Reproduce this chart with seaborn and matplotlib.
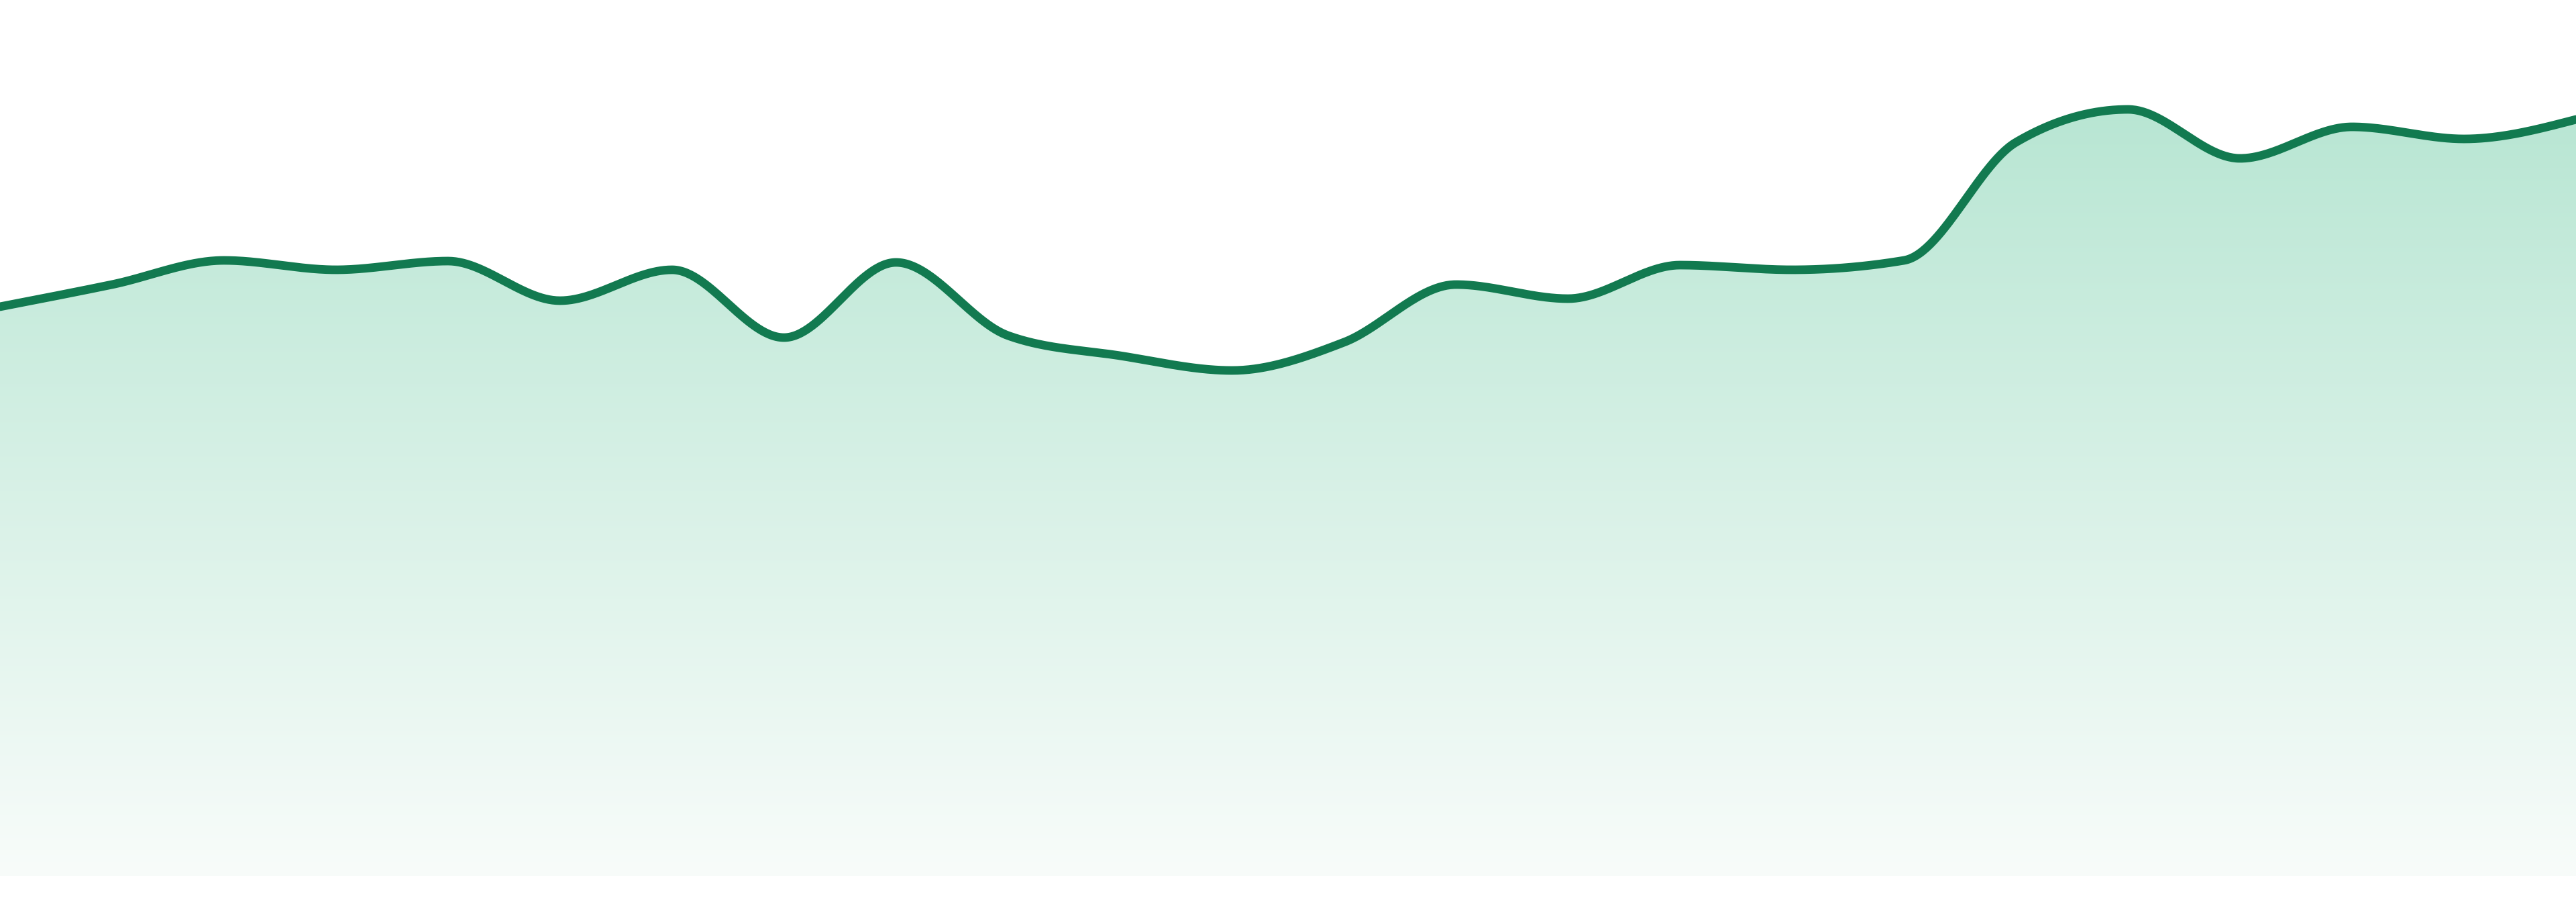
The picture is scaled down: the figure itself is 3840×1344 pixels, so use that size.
import numpy as np
import matplotlib
matplotlib.use("Agg")
import matplotlib.pyplot as plt
import seaborn as sns

# sparkline values, one per period (baseline of the area = 0)
periods = list(range(24))
values = [84.8, 88.1, 91.7, 90.3, 91.6, 85.7, 90.3, 80.2, 91.4, 80.5, 77.5, 75.3,
          79.5, 88.1, 86.0, 91.0, 90.3, 91.7, 109.3, 114.2, 106.9, 111.6, 109.8, 112.7]

line_color = "#127a50"
fill_top = np.array([184, 230, 211]) / 255
fill_bottom = np.array([248, 252, 250]) / 255


def monotone_curve(x, y, n=60):
    """Monotone cubic (like d3 curveMonotoneX), returns dense points."""
    x = np.asarray(x, float)
    y = np.asarray(y, float)
    h = np.diff(x)
    s = np.diff(y) / h
    t = np.zeros_like(y)
    for i in range(1, len(y) - 1):
        p = (s[i - 1] * h[i] + s[i] * h[i - 1]) / (h[i - 1] + h[i])
        t[i] = (np.sign(s[i - 1]) + np.sign(s[i])) * min(abs(s[i - 1]), abs(s[i]), 0.5 * abs(p))
    t[0] = (3 * s[0] - t[1]) / 2
    t[-1] = (3 * s[-1] - t[-2]) / 2
    xs, ys = [], []
    for i in range(len(x) - 1):
        u = np.linspace(0, 1, n, endpoint=(i == len(x) - 2))
        h00 = 2 * u**3 - 3 * u**2 + 1
        h10 = u**3 - 2 * u**2 + u
        h01 = -2 * u**3 + 3 * u**2
        h11 = u**3 - u**2
        xs.append(x[i] + u * h[i])
        ys.append(h00 * y[i] + h10 * h[i] * t[i] + h01 * y[i + 1] + h11 * h[i] * t[i + 1])
    return np.concatenate(xs), np.concatenate(ys)


sns.set_theme(style="white")

fig = plt.figure(figsize=(19.2, 6.72), dpi=200)
ax = fig.add_axes([0, 0, 1, 1])

cx, cy = monotone_curve(periods, values)

# gradient area under the curve
area = ax.fill_between(cx, 0, cy, color="none", lw=0)
grad_top, grad_bottom = 114.5, 0
steps = np.linspace(0, 1, 256)[:, None]
grad = fill_top * (1 - steps) + fill_bottom * steps
img = ax.imshow(grad[:, None, :], extent=[periods[0], periods[-1], grad_bottom, grad_top],
                aspect="auto", origin="upper", zorder=1, interpolation="bicubic")
img.set_clip_path(area.get_paths()[0], transform=ax.transData)

sns.lineplot(x=cx, y=cy, ax=ax, color=line_color, linewidth=4.6, zorder=3,
             sort=False, estimator=None)

ax.set_xlim(periods[0], periods[-1])
ax.set_ylim(-3.9, 130.5)
ax.axis("off")

fig.savefig("out.png", dpi=200, facecolor="white")
